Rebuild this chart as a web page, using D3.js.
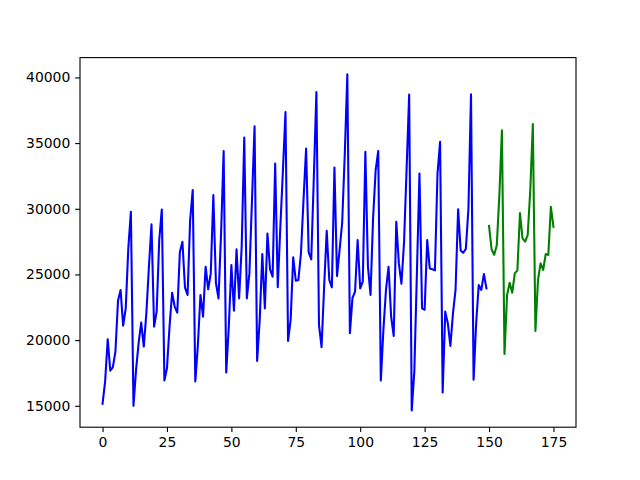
<!DOCTYPE html>
<html>
<head>
<meta charset="utf-8">
<script src="https://d3js.org/d3.v7.min.js"></script>
<style>
    body { margin: 0; background: #fff; }
    .axis text { font-family: "DejaVu Sans", sans-serif; font-size: 13.9px; fill: #000; }
    .axis line { stroke: #000; stroke-width: 1.1px; }
</style>
</head>
<body>
<script>
// blue series, x = 0..149
var blueValues = [
    15150, 16850, 20070, 17680, 17940, 19130, 23000, 23820, 21100, 22420, 27000, 29770,
    15000, 17740, 19770, 21330, 19510, 22040, 25590, 28810, 21030, 22170, 27620, 29950,
    16920, 17860, 21030, 23610, 22550, 22090, 26700, 27490, 24000, 23440, 29140, 31420,
    16850, 19640, 23440, 21790, 25590, 23870, 25080, 31040, 24370, 23180, 28120, 34400,
    17530, 21030, 25720, 22240, 26910, 23180, 27110, 35420, 23180, 25080, 30660, 36280,
    18420, 21540, 26550, 22420, 28120, 25390, 24830, 33440, 24020, 28600, 32900, 37370,
    19940, 21540, 26300, 24520, 24570, 26600, 30700, 34580, 26700, 26150, 32400, 38890,
    21160, 19460, 24070, 28330, 24580, 24020, 33140, 24880, 26860, 28950, 34100, 40230,
    20520, 23220, 23700, 27620, 23940, 24450, 34330, 25590, 23440, 29300, 32950, 34400,
    16920, 20780, 23820, 25590, 21790, 20320, 29010, 25840, 24300, 27400, 33000, 38690,
    14650, 17610, 25100, 32680, 22420, 22310, 27620, 25460, 25390, 25310, 32680, 35100,
    16010, 22170, 21290, 19560, 22040, 23820, 29970, 26810, 26650, 26950, 30000, 38710,
    16980, 21290, 24200, 23820, 25030, 23940
];

// green series, x = 150..175
var greenStart = 150;
var greenValues = [
    28700, 26900, 26500, 27200, 31000, 35980, 18950, 23440, 24370, 23610, 25080, 25310,
    29670, 27740, 27500, 28000, 31400, 36450, 20700, 24580, 25840, 25340, 26550, 26480,
    30150, 28630
];

var xTicks = [0, 25, 50, 75, 100, 125, 150, 175];
var yTicks = [15000, 20000, 25000, 30000, 35000, 40000];

function init() {
    var w = 640;
    var h = 480;

    // matplotlib default axes box
    var left = 80, right = 576, top = 57.6, bottom = 427.2;

    var blueData = blueValues.map(function (v, i) { return { x: i, y: v }; });
    var greenData = greenValues.map(function (v, i) { return { x: greenStart + i, y: v }; });
    var all = blueData.concat(greenData);

    var xMin = d3.min(all, function (d) { return d.x; });
    var xMax = d3.max(all, function (d) { return d.x; });
    var yMin = d3.min(all, function (d) { return d.y; });
    var yMax = d3.max(all, function (d) { return d.y; });
    var xPad = (xMax - xMin) * 0.05;
    var yPad = (yMax - yMin) * 0.05;

    var xScale = d3.scaleLinear().domain([xMin - xPad, xMax + xPad]).range([left, right]);
    var yScale = d3.scaleLinear().domain([yMin - yPad, yMax + yPad]).range([bottom, top]);

    var svg = d3.select("body").append("svg").attr("width", w).attr("height", h);

    var line = d3.line()
        .x(function (d) { return xScale(d.x); })
        .y(function (d) { return yScale(d.y); });

    svg.append("path")
        .datum(blueData)
        .attr("d", line)
        .attr("fill", "none")
        .attr("stroke", "#0000ff")
        .attr("stroke-width", 2.08)
        .attr("stroke-linejoin", "round")
        .attr("stroke-linecap", "square");

    svg.append("path")
        .datum(greenData)
        .attr("d", line)
        .attr("fill", "none")
        .attr("stroke", "#008000")
        .attr("stroke-width", 2.08)
        .attr("stroke-linejoin", "round")
        .attr("stroke-linecap", "square");

    var xAxis = d3.axisBottom(xScale).tickValues(xTicks).tickSize(4.86).tickPadding(4.86).tickFormat(d3.format("d"));
    var yAxis = d3.axisLeft(yScale).tickValues(yTicks).tickSize(4.86).tickPadding(4.86).tickFormat(d3.format("d"));

    var gx = svg.append("g")
        .attr("class", "axis")
        .attr("transform", "translate(0," + bottom + ")")
        .call(xAxis);
    gx.select(".domain").remove();

    var gy = svg.append("g")
        .attr("class", "axis")
        .attr("transform", "translate(" + left + ",0)")
        .call(yAxis);
    gy.select(".domain").remove();

    // frame
    svg.append("rect")
        .attr("x", left)
        .attr("y", top)
        .attr("width", right - left)
        .attr("height", bottom - top)
        .attr("fill", "none")
        .attr("stroke", "#000")
        .attr("stroke-width", 1.1);
}

window.onload = init;
</script>
</body>
</html>
